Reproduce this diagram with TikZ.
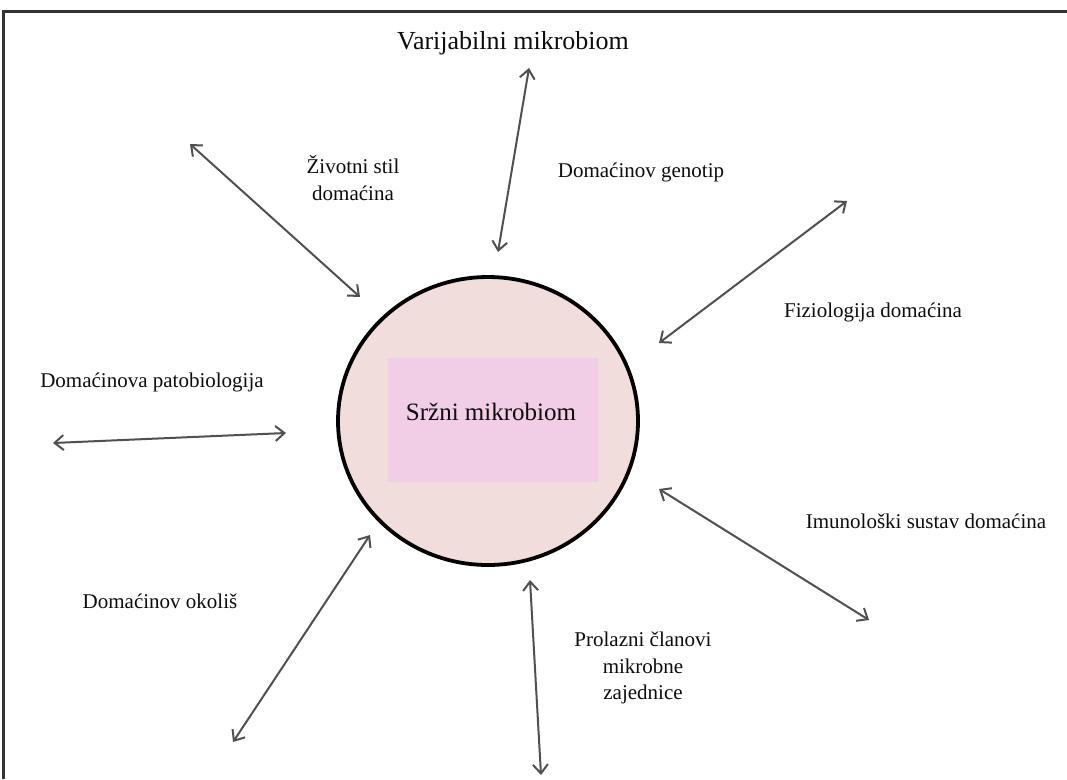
\documentclass[tikz,border=0pt]{standalone}
\usepackage{fontspec}
\setmainfont{Liberation Serif}
\usetikzlibrary{arrows.meta,shapes.geometric}
\definecolor{circfill}{HTML}{F2DDDD}
\definecolor{rectfill}{HTML}{F2CEE6}
\definecolor{arrowgray}{HTML}{505050}
\definecolor{textc}{HTML}{0D0D0D}
\tikzset{
  biarrow/.style={draw=arrowgray, line width=2pt, {Straight Barb[length=9pt,width=15pt,line width=2pt]}-{Straight Barb[length=9pt,width=15pt,line width=2pt]}},
  lbl/.style={text=textc, font=\fontsize{21}{27}\selectfont, inner sep=0pt, align=center},
}
\begin{document}
\begin{tikzpicture}[x=1pt,y=-1pt]
\useasboundingbox (0,0) rectangle (1067,779);
\fill[white] (0,0) rectangle (1067,779);
% frame (top and left edges visible)
\draw[line width=3pt, draw=black!80] (3,779) -- (3,11) -- (1067,11);

% core circle
\node[ellipse, draw=black, line width=3.8pt, fill=circfill, minimum width=300pt, minimum height=288pt, inner sep=0pt] (core) at (488,421) {};
\fill[rectfill] (388,358) rectangle (598,482);
\node[lbl, font=\fontsize{25}{28}\selectfont] (coretxt) at (491,412) {Sržni mikrobiom};

% labels
\node[lbl, font=\fontsize{26}{30}\selectfont] (varij) at (513,43) {Varijabilni mikrobiom};
\node[lbl] (zivot) at (353,178) {Životni stil\\domaćina};
\node[lbl] (geno) at (641,172) {Domaćinov genotip};
\node[lbl] (fizio) at (873,312) {Fiziologija domaćina};
\node[lbl] (pato) at (152,382) {Domaćinova patobiologija};
\node[lbl] (imuno) at (926,521) {Imunološki sustav domaćina};
\node[lbl] (okolis) at (160,601) {Domaćinov okoliš};
\node[lbl, font=\fontsize{21}{26.5}\selectfont] (prolaz) at (643,668) {Prolazni članovi\\mikrobne\\zajednice};

% arrow endpoints
\coordinate (a1o) at (529,68);  \coordinate (a1i) at (498,252);
\coordinate (a2o) at (190,144); \coordinate (a2i) at (360,297);
\coordinate (a3o) at (847,201); \coordinate (a3i) at (659,343);
\coordinate (a4o) at (53,443);  \coordinate (a4i) at (286,433);
\coordinate (a5o) at (869,620); \coordinate (a5i) at (659,489);
\coordinate (a6o) at (233,742); \coordinate (a6i) at (370,535);
\coordinate (a7o) at (541,775); \coordinate (a7i) at (530,580);

\draw[biarrow] (a1o) -- (a1i);
\draw[biarrow] (a2o) -- (a2i);
\draw[biarrow] (a3o) -- (a3i);
\draw[biarrow] (a4o) -- (a4i);
\draw[biarrow] (a5o) -- (a5i);
\draw[biarrow] (a6o) -- (a6i);
\draw[biarrow] (a7o) -- (a7i);
\end{tikzpicture}
\end{document}
